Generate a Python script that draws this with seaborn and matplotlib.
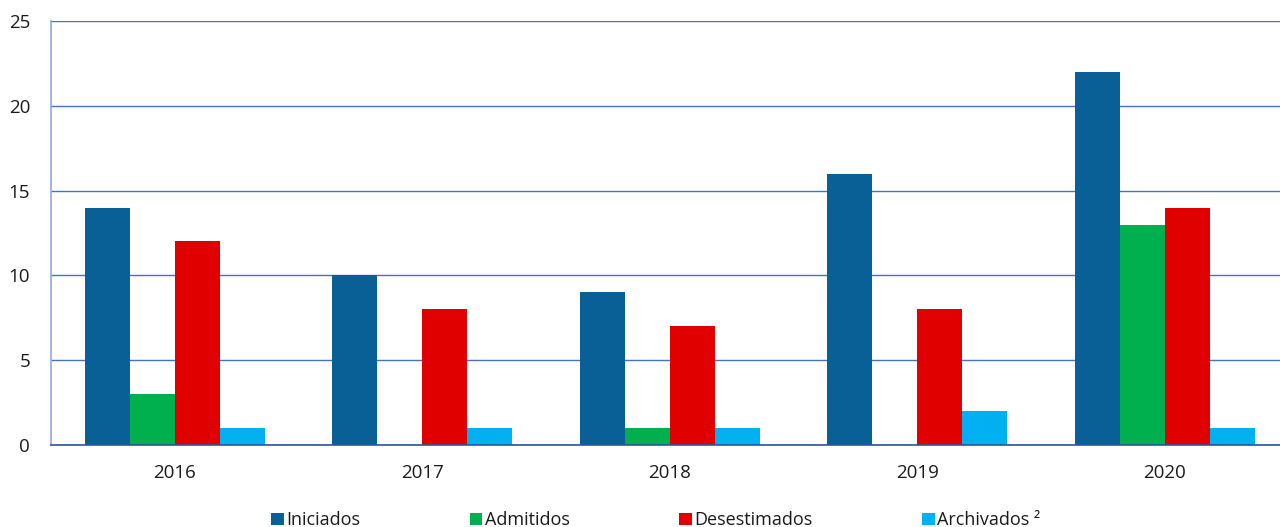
import matplotlib
matplotlib.use("Agg")
import matplotlib.pyplot as plt
from matplotlib.patches import Patch
import seaborn as sns
import pandas as pd

years = ["2016", "2017", "2018", "2019", "2020"]
series = ["Iniciados", "Admitidos", "Desestimados", "Archivados ²"]
iniciados = [14, 10, 9, 16, 22]
admitidos = [3, 0, 1, 0, 13]
desestimados = [12, 8, 7, 8, 14]
archivados = [1, 1, 1, 2, 1]
colors = ["#086096", "#00B04F", "#E00000", "#00B0F0"]

rows = []
for name, vals in zip(series, [iniciados, admitidos, desestimados, archivados]):
    for y, v in zip(years, vals):
        rows.append({"Año": y, "Serie": name, "Valor": v})
df = pd.DataFrame(rows)

sns.set_style("white")
plt.rcParams["font.family"] = ["Open Sans", "DejaVu Sans"]

fig = plt.figure(figsize=(12.8, 5.27), dpi=100)
ax = fig.add_axes([51 / 1280, 82 / 527, 1237.5 / 1280, 424 / 527])

sns.barplot(data=df, x="Año", y="Valor", hue="Serie", hue_order=series,
            palette=colors, width=0.727, gap=0, saturation=1,
            linewidth=0, ax=ax, legend=False)

ax.set_xlim(-0.5, 4.5)
ax.set_ylim(0, 25)
ax.set_yticks([0, 5, 10, 15, 20, 25])
ax.set_xlabel("")
ax.set_ylabel("")

grid_col = "#4472C4"
ax.yaxis.grid(True, color=grid_col, linewidth=1.0)
ax.set_axisbelow(True)
for side in ["top", "right"]:
    ax.spines[side].set_visible(False)
ax.spines["left"].set_color("#8EA9DB")
ax.spines["left"].set_linewidth(1.2)
ax.spines["bottom"].set_color("#2F5597")
ax.spines["bottom"].set_linewidth(1.2)

fs = 13.5
ax.tick_params(axis="y", length=7, width=1, color=grid_col, labelsize=fs,
               labelcolor="#1a1a1a", pad=8)
ax.tick_params(axis="x", which="major", length=0, labelsize=fs,
               labelcolor="#1a1a1a", pad=14)
ax.set_xticks([-0.5, 0.5, 1.5, 2.5, 3.5, 4.5], minor=True)
ax.tick_params(axis="x", which="minor", length=7, width=1, color="#2F5597")

handles = [Patch(facecolor=c, edgecolor="none") for c in colors]
fig.legend(handles, series, loc="lower left", bbox_to_anchor=(255 / 1280, -0.035),
           ncol=4, frameon=False, fontsize=13, handlelength=0.7, handleheight=0.7,
           handletextpad=0.15, columnspacing=6.05, labelcolor="#1a1a1a")

fig.savefig("out.png", dpi=100)
